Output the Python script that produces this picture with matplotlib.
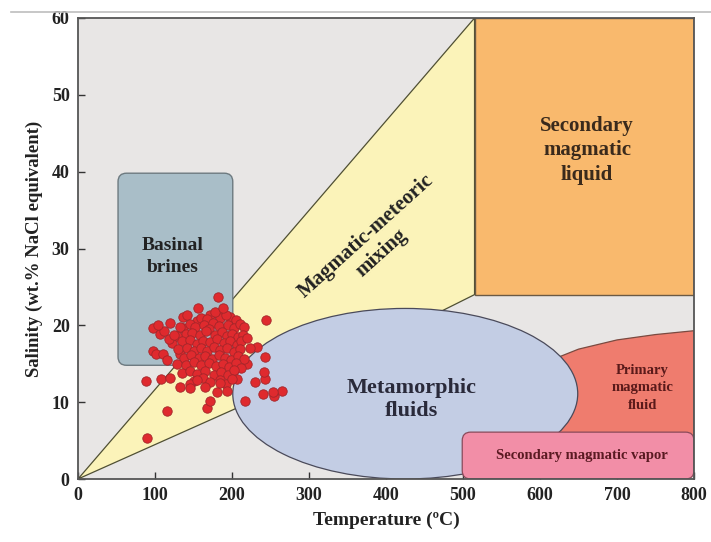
import numpy as np
import matplotlib.pyplot as plt
from matplotlib.patches import Polygon, Ellipse, FancyBboxPatch, Rectangle
from matplotlib.lines import Line2D

# fluid inclusion data: homogenization temperature (C) and salinity (wt.% NaCl eq.)
temp = [90, 115, 88, 168, 172, 108, 120, 217, 240, 255, 265, 230, 243, 241, 206,
        243, 219, 232, 244, 182, 156, 98, 107, 120, 122, 98, 101, 111, 133, 137,
        142, 137, 133, 155, 172, 182, 197, 253,
        160, 168, 185, 192, 205, 178, 188,
        145, 152, 163, 175, 183, 195, 202, 210, 215, 170,
        140, 148, 158, 166, 178, 187, 193, 200, 208, 214, 128,
        135, 145, 155, 162, 172, 180, 190, 198, 206, 212, 118, 220,
        130, 142, 150, 160, 168, 176, 185, 194, 203, 211, 224,
        138, 147, 157, 165, 174, 183, 191, 199, 208, 216,
        128, 140, 150, 160, 170, 179, 188, 196, 205, 212,
        135, 146, 155, 165, 176, 186, 195, 203,
        150, 162, 172, 184, 192, 200, 146,
        132, 145, 155, 181, 185, 165, 194,
        112, 125, 104, 116]
salinity = [5.4, 8.9, 12.7, 9.3, 10.1, 13.0, 13.1, 10.1, 11.0, 10.8, 11.4, 12.6, 13.0, 13.9, 13.0,
            15.9, 15.0, 17.2, 20.7, 23.7, 22.2, 19.6, 18.9, 20.3, 17.7, 16.7, 16.3, 16.3, 16.3, 21.1,
            21.3, 19.6, 19.8, 20.6, 21.3, 21.5, 21.1, 11.3,
            21.0, 20.8, 20.9, 21.4, 20.7, 21.8, 22.3,
            20.2, 19.8, 20.1, 20.3, 19.9, 20.0, 19.6, 20.2, 19.8, 19.5,
            18.9, 19.0, 18.7, 19.2, 18.8, 19.1, 18.6, 18.9, 18.5, 18.8, 18.6,
            17.9, 18.1, 17.6, 18.0, 17.8, 18.2, 17.7, 18.0, 17.5, 17.9, 18.2, 18.3,
            16.9, 17.1, 16.7, 17.0, 16.6, 17.2, 16.8, 17.0, 16.5, 16.9, 17.1,
            15.8, 16.1, 15.7, 16.0, 15.6, 16.1, 15.8, 15.5, 16.0, 15.6,
            15.0, 14.9, 15.2, 14.8, 15.1, 14.7, 15.0, 14.6, 15.1, 14.5,
            13.8, 14.1, 13.7, 14.0, 13.6, 13.9, 13.5, 14.2,
            12.8, 13.1, 12.6, 12.9, 12.4, 13.0, 12.4,
            12.0, 11.8, 12.9, 11.3, 12.5, 12.0, 11.5,
            19.3, 18.7, 20.0, 15.5]

x_ticks = [0, 100, 200, 300, 400, 500, 600, 700, 800]
y_ticks = [0, 10, 20, 30, 40, 50, 60]

serif = ['Liberation Serif', 'DejaVu Serif']
plt.rcParams['font.family'] = serif
plt.rcParams['font.weight'] = 'bold'

fig = plt.figure(figsize=(7.11, 5.42), dpi=100)
ax = fig.add_axes([78 / 711, 63 / 542, 616 / 711, 461 / 542])
ax.set_xlim(0, 800)
ax.set_ylim(0, 60)
ax.set_facecolor('#e8e6e5')

# y data units per x data unit, so rounded corners look round on screen
asp = 0.77 / 7.68

# magmatic-meteoric mixing wedge
wedge = Polygon([(0, 0), (515, 60), (515, 24), (465, 21.5), (300, 15), (210, 9.4)],
                closed=True, facecolor='#fbf3b9', edgecolor='#4f4f33', lw=0.9, zorder=1)
ax.add_patch(wedge)

# secondary magmatic liquid
ax.add_patch(Rectangle((515, 24), 285, 36, facecolor='#f9b96d', edgecolor='#6b5a45',
                       lw=1.0, zorder=2))

# basinal brines
ax.add_patch(FancyBboxPatch((52, 14.8), 149, 25, boxstyle='round,pad=0,rounding_size=11',
                            mutation_aspect=asp, facecolor='#a9bec8',
                            edgecolor='#6d7a80', lw=1.0, zorder=3))

# primary magmatic fluid
pmf_t = [600, 625, 650, 700, 750, 800, 800, 600]
pmf_s = [14.5, 15.9, 16.9, 18.1, 18.8, 19.3, 5, 5]
ax.add_patch(Polygon(list(zip(pmf_t, pmf_s)), closed=True, facecolor='#ef7c6e',
                     edgecolor='#7a4a40', lw=0.9, zorder=3))

# metamorphic fluids
ax.add_patch(Ellipse((425, 11.1), 448, 22.2, facecolor='#c3cde4', edgecolor='#4a4a5a',
                     lw=0.9, zorder=4))

# secondary magmatic vapor
ax.add_patch(FancyBboxPatch((499, 0), 301, 6.1, boxstyle='round,pad=0,rounding_size=11',
                            mutation_aspect=asp, facecolor='#f28ea7',
                            edgecolor='#8a4a5a', lw=0.9, zorder=5))

ax.scatter(temp, salinity, s=46, c='#df2a2e', edgecolors='#a3262a', linewidths=0.6,
           zorder=6)

tc = '#222222'
ax.text(123, 29.0, 'Basinal\nbrines', ha='center', va='center', fontsize=14,
        color=tc, linespacing=1.4, zorder=7)
ax.text(384, 30.5, 'Magmatic-meteoric\nmixing', ha='center', va='center', fontsize=15,
        color=tc, rotation=42, linespacing=1.15, zorder=7)
ax.text(661, 42.8, 'Secondary\nmagmatic\nliquid', ha='center', va='center', fontsize=15,
        color='#3a2a1c', linespacing=1.3, zorder=7)
ax.text(433, 10.3, 'Metamorphic\nfluids', ha='center', va='center', fontsize=16,
        color='#2a2a3a', linespacing=1.2, zorder=7)
ax.text(733, 11.9, 'Primary\nmagmatic\nfluid', ha='center', va='center', fontsize=10.5,
        color='#5a1a1a', linespacing=1.45, zorder=7)
ax.text(655, 3.1, 'Secondary magmatic vapor', ha='center', va='center', fontsize=10.5,
        color='#5a1a22', zorder=7)

ax.set_xticks(x_ticks)
ax.set_yticks(y_ticks)
ax.tick_params(direction='in', length=5, width=1, colors='#333333', labelsize=13,
               top=False, right=False, pad=6)
for lab in ax.get_xticklabels() + ax.get_yticklabels():
    lab.set_fontweight('bold')
    lab.set_color('#222222')
for sp in ax.spines.values():
    sp.set_color('#555555')
    sp.set_linewidth(1.3)
    sp.set_zorder(8)

ax.set_xlabel('Temperature (ºC)', fontsize=14, fontweight='bold', color='#222222',
              labelpad=5)
ax.set_ylabel('Salinity (wt.% NaCl equivalent)', fontsize=13.5, fontweight='bold',
              color='#222222', labelpad=6)

fig.add_artist(Line2D([0.015, 1.0], [1 - 12 / 542, 1 - 12 / 542], color='#bdbdbd', lw=1.2))

fig.savefig('out.png', dpi=100)
